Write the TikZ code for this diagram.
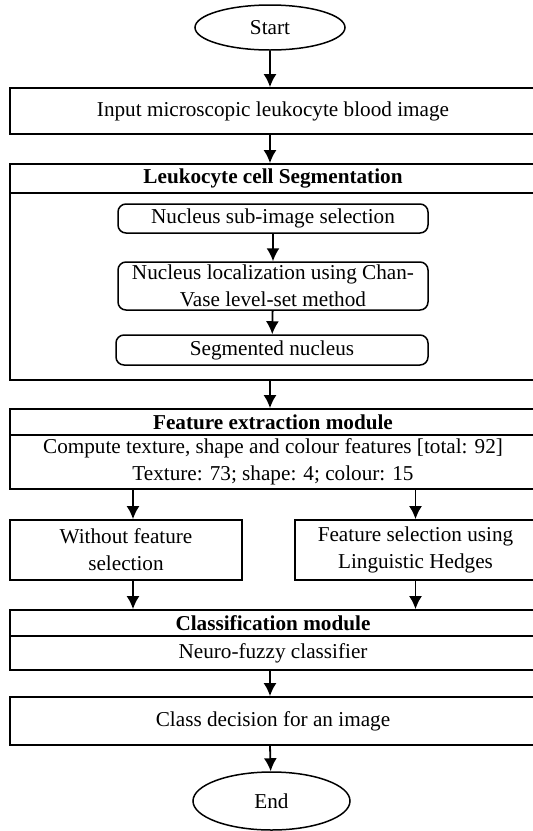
\documentclass[tikz,border=0pt]{standalone}
\usepackage{fontspec}
\setmainfont{Liberation Serif}
\usetikzlibrary{arrows.meta,shapes.geometric}
\tikzset{
	box/.style={draw, line width=1.8pt, rectangle, inner sep=0pt, align=center},
	rbox/.style={box, line width=1.5pt, rounded corners=8pt},
	term/.style={draw, line width=1.5pt, ellipse, inner sep=0pt},
	arr/.style={line width=1.8pt, -{Latex[length=13pt,width=13pt]}},
}

\begin{document}
\begin{tikzpicture}[x=1pt, y=-1pt, font=\fontsize{21.2}{27}\selectfont]
		%%%%% START %%%%%
		\useasboundingbox (0, 0) rectangle (533, 831);
		
		\node[term, minimum width=150pt, minimum height=45pt] (start) at (270, 27.5) {Start};
		\node[box, minimum width=526pt, minimum height=46pt] (input) at (273, 111) {Input microscopic leukocyte blood image};
		
		% segmentation
		\node[box, minimum width=526pt, minimum height=29pt, font=\fontsize{21.2}{27}\selectfont\bfseries] (seghead) at (273, 178.5) {Leukocyte cell Segmentation};
		\node[box, minimum width=526pt, minimum height=187pt] (segbody) at (273, 286.5) {};
		\node[rbox, minimum width=310pt, minimum height=29pt] (subimg) at (273, 218.5) {Nucleus sub-image selection};
		\node[rbox, minimum width=310pt, minimum height=48pt] (chanvase) at (273, 286) {Nucleus localization using Chan-\\Vase level-set method};
		\node[rbox, minimum width=312pt, minimum height=30pt] (segnuc) at (272, 350) {Segmented nucleus};
		
		% features
		\node[box, minimum width=526pt, minimum height=26pt, font=\fontsize{21.2}{27}\selectfont\bfseries] (feathead) at (273, 422) {Feature extraction module};
		\node[box, minimum width=526pt, minimum height=54pt] (featbody) at (273, 462) {Compute texture, shape and colour features [total: 92]\\Texture: 73; shape: 4; colour: 15};
		\node[box, minimum width=232pt, minimum height=60pt] (nosel) at (126, 550) {Without feature\\selection};
		\node[box, minimum width=241pt, minimum height=60pt] (lhsel) at (415.5, 550) {Feature selection using\\Linguistic Hedges};
		
		% classification
		\node[box, minimum width=526pt, minimum height=26pt, font=\fontsize{21.2}{27}\selectfont\bfseries] (clshead) at (273, 623) {Classification module};
		\node[box, minimum width=526pt, minimum height=34pt] (clsbody) at (273, 653) {Neuro-fuzzy classifier};
		\node[box, minimum width=526pt, minimum height=48pt] (decision) at (273, 721) {Class decision for an image};
		\node[term, minimum width=157pt, minimum height=58pt] (end) at (271.5, 801) {End};
		
		\draw[arr] (start) -- (start |- input.north);
		\draw[arr] (start |- input.south) -- (start |- seghead.north);
		\draw[arr] (subimg) -- (chanvase);
		\draw[arr] (chanvase) -- (segnuc);
		\draw[arr] (start |- segbody.south) -- (start |- feathead.north);
		\draw[arr] ([xshift=7pt]nosel.north |- featbody.south) -- ([xshift=7pt]nosel.north);
		\draw[arr] (lhsel.north |- featbody.south) -- (lhsel.north);
		\draw[arr] ([xshift=7pt]nosel.south) -- ([xshift=7pt]nosel.south |- clshead.north);
		\draw[arr] (lhsel.south) -- (lhsel.south |- clshead.north);
		\draw[arr] (start |- clsbody.south) -- (start |- decision.north);
		\draw[arr] (start |- decision.south) -- (end);
		
		%%%%% END %%%%%
	\end{tikzpicture}
\end{document}
